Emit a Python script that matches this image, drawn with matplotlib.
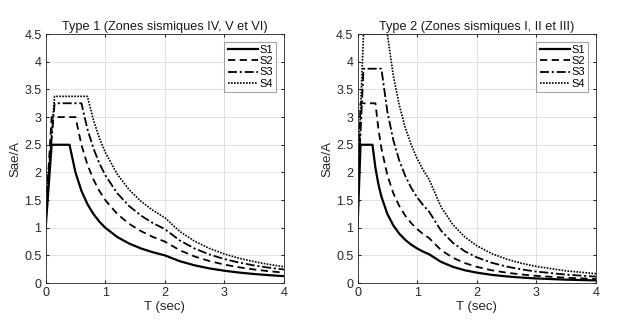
import matplotlib.pyplot as plt

plt.rcParams['font.family'] = ['Liberation Sans', 'DejaVu Sans']

# ---- Type 1 (Zones sismiques IV, V et VI) : valeurs ----
t1_s1_T = [0, 0.1, 0.4, 0.5, 0.6, 0.7, 0.8, 0.9, 1.0, 1.2, 1.4, 1.6, 1.8, 2.0,
           2.25, 2.5, 2.75, 3.0, 3.25, 3.5, 3.75, 4.0]
t1_s1_y = [1.0, 2.5, 2.5, 2.0, 1.667, 1.429, 1.25, 1.111, 1.0, 0.833, 0.714, 0.625, 0.556, 0.5,
           0.395, 0.32, 0.264, 0.222, 0.189, 0.163, 0.142, 0.125]

t1_s2_T = [0, 0.1, 0.5, 0.6, 0.7, 0.8, 0.9, 1.0, 1.2, 1.4, 1.6, 1.8, 2.0,
           2.25, 2.5, 2.75, 3.0, 3.25, 3.5, 3.75, 4.0]
t1_s2_y = [1.2, 3.0, 3.0, 2.5, 2.143, 1.875, 1.667, 1.5, 1.25, 1.071, 0.938, 0.833, 0.75,
           0.593, 0.48, 0.397, 0.333, 0.284, 0.245, 0.213, 0.188]

t1_s3_T = [0, 0.15, 0.6, 0.7, 0.8, 0.9, 1.0, 1.2, 1.4, 1.6, 1.8, 2.0,
           2.25, 2.5, 2.75, 3.0, 3.25, 3.5, 3.75, 4.0]
t1_s3_y = [1.3, 3.25, 3.25, 2.786, 2.438, 2.167, 1.95, 1.625, 1.393, 1.219, 1.083, 0.975,
           0.77, 0.624, 0.516, 0.433, 0.369, 0.318, 0.277, 0.244]

t1_s4_T = [0, 0.15, 0.7, 0.8, 0.9, 1.0, 1.2, 1.4, 1.6, 1.8, 2.0,
           2.25, 2.5, 2.75, 3.0, 3.25, 3.5, 3.75, 4.0]
t1_s4_y = [1.35, 3.375, 3.375, 2.953, 2.625, 2.363, 1.969, 1.688, 1.477, 1.313, 1.181,
           0.933, 0.756, 0.625, 0.525, 0.447, 0.386, 0.336, 0.295]

# ---- Type 2 (Zones sismiques I, II et III) ----
t2_s1_T = [0, 0.05, 0.25, 0.3, 0.35, 0.4, 0.5, 0.6, 0.7, 0.8, 0.9, 1.0, 1.1, 1.2,
           1.4, 1.6, 1.8, 2.0, 2.25, 2.5, 2.75, 3.0, 3.5, 4.0]
t2_s1_y = [1.0, 2.5, 2.5, 2.083, 1.786, 1.563, 1.25, 1.042, 0.893, 0.781, 0.694, 0.625, 0.568, 0.521,
           0.383, 0.293, 0.231, 0.188, 0.148, 0.12, 0.099, 0.083, 0.061, 0.047]

t2_s2_T = [0, 0.05, 0.3, 0.35, 0.4, 0.5, 0.6, 0.7, 0.8, 0.9, 1.0, 1.1, 1.2,
           1.4, 1.6, 1.8, 2.0, 2.25, 2.5, 2.75, 3.0, 3.5, 4.0]
t2_s2_y = [1.3, 3.25, 3.25, 2.786, 2.438, 1.95, 1.625, 1.393, 1.219, 1.083, 0.975, 0.886, 0.813,
           0.597, 0.457, 0.361, 0.293, 0.231, 0.187, 0.155, 0.13, 0.096, 0.073]

t2_s3_T = [0, 0.1, 0.4, 0.5, 0.6, 0.7, 0.8, 0.9, 1.0, 1.1, 1.2,
           1.4, 1.6, 1.8, 2.0, 2.25, 2.5, 2.75, 3.0, 3.5, 4.0]
t2_s3_y = [1.55, 3.875, 3.875, 3.1, 2.583, 2.214, 1.938, 1.722, 1.55, 1.409, 1.292,
           0.949, 0.727, 0.574, 0.465, 0.367, 0.298, 0.246, 0.207, 0.152, 0.116]

t2_s4_T = [0, 0.1, 0.5, 0.6, 0.7, 0.8, 0.9, 1.0, 1.1, 1.2,
           1.4, 1.6, 1.8, 2.0, 2.25, 2.5, 2.75, 3.0, 3.5, 4.0]
t2_s4_y = [1.8, 4.5, 4.5, 3.75, 3.214, 2.813, 2.5, 2.25, 2.045, 1.875,
           1.378, 1.055, 0.833, 0.675, 0.533, 0.432, 0.357, 0.3, 0.22, 0.169]

labels = ['S1', 'S2', 'S3', 'S4']
titles = ['Type 1 (Zones sismiques IV, V et VI)', 'Type 2 (Zones sismiques I, II et III)']
xticks = [0, 1, 2, 3, 4]
yticks = [0, 0.5, 1, 1.5, 2, 2.5, 3, 3.5, 4, 4.5]
ytick_labels = ['0', '0.5', '1', '1.5', '2', '2.5', '3', '3.5', '4', '4.5']

series = [
    [(t1_s1_T, t1_s1_y), (t1_s2_T, t1_s2_y), (t1_s3_T, t1_s3_y), (t1_s4_T, t1_s4_y)],
    [(t2_s1_T, t2_s1_y), (t2_s2_T, t2_s2_y), (t2_s3_T, t2_s3_y), (t2_s4_T, t2_s4_y)],
]
styles = [dict(ls='-', lw=1.6),
          dict(ls=(0, (4, 2.5)), lw=1.3),
          dict(ls=(0, (5, 1.5, 1.2, 1.5)), lw=1.3),
          dict(ls=(0, (1, 0.8)), lw=1.2)]

fig = plt.figure(figsize=(6.24, 3.22), dpi=100)
fig.patch.set_facecolor('white')
lefts = [0.0732, 0.573]

for i in range(2):
    ax = fig.add_axes([lefts[i], 0.121, 0.382, 0.773])
    for (T, y), lab, st in zip(series[i], labels, styles):
        ax.plot(T, y, color='black', label=lab, **st)
    ax.set_xlim(0, 4)
    ax.set_ylim(0, 4.5)
    ax.set_xticks(xticks)
    ax.set_yticks(yticks)
    ax.set_yticklabels(ytick_labels)
    ax.grid(True, color='#dcdcdc', lw=0.6)
    ax.set_axisbelow(True)
    ax.tick_params(direction='in', length=2.5, labelsize=9, colors='#262626',
                   top=True, right=True, pad=3)
    for sp in ax.spines.values():
        sp.set_color('#262626')
        sp.set_linewidth(0.6)
    ax.set_title(titles[i], fontsize=9.2, color='#1a1a1a', pad=3)
    ax.set_xlabel('T (sec)', fontsize=9.5, color='#262626', labelpad=1)
    ax.set_ylabel('Sae/A', fontsize=9.5, color='#262626', labelpad=2)
    leg = ax.legend(loc='upper right', fontsize=8, frameon=True, fancybox=False,
                    edgecolor='#8c8c8c', handlelength=2.7, handletextpad=0.15,
                    borderpad=0.3, labelspacing=0.1, borderaxespad=0.7)
    leg.get_frame().set_linewidth(0.8)

fig.savefig('out.png', dpi=100, facecolor='white')
